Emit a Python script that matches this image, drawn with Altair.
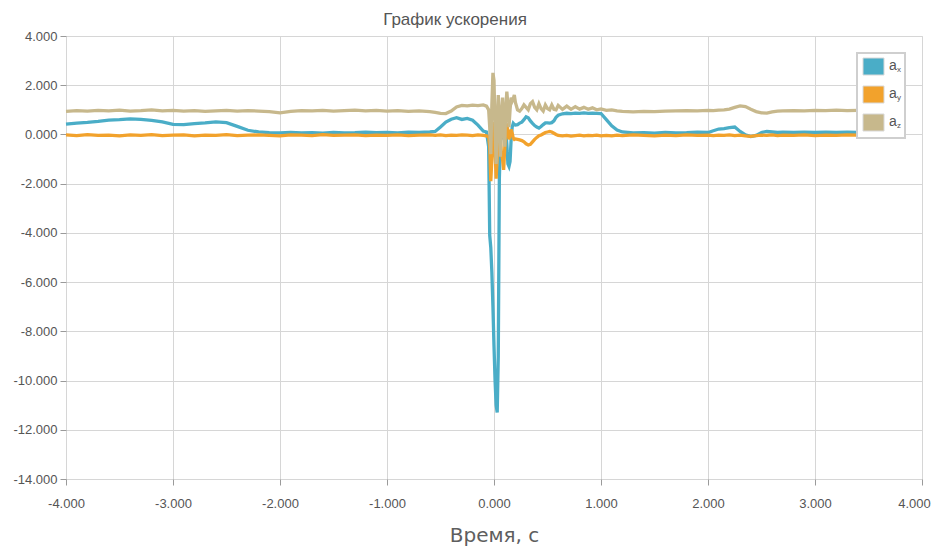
import altair as alt
import pandas as pd

TITLE = "График ускорения"
X_TITLE = "Время, с"
SERIES = ["ax", "ay", "az"]
SUBS = ["x", "y", "z"]
COLORS = ["#4aadc7", "#f2a22c", "#c7b88c"]

T = [-4.0, -3.9, -3.8, -3.7, -3.6, -3.5, -3.4, -3.3, -3.2, -3.1,
     -3.0, -2.9, -2.8, -2.7, -2.6, -2.5, -2.4, -2.3, -2.2, -2.1,
     -2.0, -1.9, -1.8, -1.7, -1.6, -1.5, -1.4, -1.3, -1.2, -1.1,
     -1.0, -0.9, -0.8, -0.7, -0.6,
     -0.55, -0.5, -0.45, -0.4, -0.35, -0.3, -0.25, -0.2, -0.15, -0.1, -0.07,
     -0.05, -0.04, -0.03, -0.02, -0.01, 0.0, 0.01, 0.02, 0.03, 0.04,
     0.05, 0.06, 0.07, 0.08, 0.09, 0.10, 0.11, 0.12, 0.13, 0.14,
     0.15, 0.16, 0.17, 0.18, 0.19, 0.20,
     0.22, 0.24, 0.26, 0.28, 0.30, 0.32, 0.34, 0.36, 0.38, 0.40,
     0.42, 0.44, 0.46, 0.48, 0.50, 0.52, 0.54, 0.56, 0.58, 0.60,
     0.64, 0.68, 0.72, 0.76, 0.80, 0.84, 0.88, 0.92, 0.96, 1.00,
     1.05, 1.10, 1.15, 1.20, 1.30, 1.40, 1.50, 1.60, 1.70, 1.80, 1.90, 2.00,
     2.05, 2.10, 2.15, 2.20, 2.25, 2.30, 2.35, 2.40, 2.45, 2.50, 2.55, 2.60, 2.65, 2.70,
     2.80, 2.90, 3.00, 3.10, 3.20, 3.30, 3.40]

AX = [0.42, 0.46, 0.49, 0.53, 0.58, 0.60, 0.63, 0.61, 0.57, 0.51,
      0.41, 0.40, 0.44, 0.47, 0.51, 0.48, 0.33, 0.17, 0.10, 0.07,
      0.06, 0.08, 0.06, 0.07, 0.05, 0.08, 0.06, 0.07, 0.09, 0.07,
      0.08, 0.06, 0.09, 0.08, 0.10,
      0.12, 0.30, 0.50, 0.62, 0.68, 0.61, 0.65, 0.58, 0.38, 0.14, 0.10,
      -0.5, -4.1, -4.6, -5.6, -7.0, -8.6, -10.0, -11.0, -11.3, -9.0,
      -1.8, -0.3, 0.35, -0.2, 0.1, 0.4, 0.2, -0.4, -1.2, -1.3,
      -1.1, -0.2, 0.3, 0.45, 0.4, 0.38,
      0.40, 0.46, 0.50, 0.60, 0.72, 0.68, 0.55, 0.45, 0.36, 0.30,
      0.26, 0.32, 0.40, 0.47, 0.47, 0.46, 0.48, 0.55, 0.70, 0.78,
      0.84, 0.86, 0.85, 0.87, 0.86, 0.88, 0.86, 0.87, 0.86, 0.85,
      0.60, 0.35, 0.18, 0.10, 0.06, 0.07, 0.05, 0.08, 0.06, 0.07, 0.09, 0.08,
      0.15, 0.22, 0.24, 0.28, 0.30, 0.12, -0.02, -0.09, -0.04, 0.08, 0.12, 0.10, 0.08, 0.09,
      0.08, 0.09, 0.08, 0.09, 0.08, 0.09, 0.08]

AY = [-0.02, -0.05, -0.01, -0.04, -0.03, -0.06, -0.02, -0.04, -0.01, -0.05,
      -0.03, -0.02, -0.06, -0.03, -0.04, -0.01, -0.05, -0.03, -0.02, -0.04,
      -0.06, -0.02, -0.03, -0.05, -0.01, -0.04, -0.03, -0.02, -0.05, -0.03,
      -0.04, -0.02, -0.05, -0.03, -0.02,
      -0.04, -0.02, -0.05, -0.03, -0.04, -0.02, -0.03, -0.05, -0.02, -0.04, -0.06,
      -0.1, -0.5, -1.9, -1.0, -0.2, 0.5, -0.6, -1.8, -0.9, 0.2,
      0.5, -0.2, -0.8, -1.0, -1.44, -0.6, 0.3, 0.45, 0.1, -0.2,
      0.0, 0.2, 0.05, -0.15, -0.2, -0.18,
      -0.2, -0.22, -0.25, -0.3, -0.38, -0.43, -0.4, -0.3, -0.2, -0.12,
      -0.05, -0.02, 0.03, 0.08, 0.1, 0.12, 0.1, 0.05, 0.0, -0.04,
      -0.06, -0.04, -0.07, -0.05, -0.03, -0.06, -0.04, -0.05, -0.03, -0.06,
      -0.04, -0.06, -0.03, -0.05, -0.02, -0.04, -0.06, -0.03, -0.05, -0.02, -0.04, -0.03,
      -0.05, -0.03, -0.04, -0.02, -0.05, -0.03, -0.06, -0.08, -0.05, -0.03, -0.04, -0.02, -0.05, -0.03,
      -0.04, -0.02, -0.05, -0.03, -0.04, -0.02, -0.03]

AZ = [0.94, 0.97, 0.95, 0.98, 0.96, 0.99, 0.95, 0.97, 1.00, 0.96,
      0.98, 0.95, 0.97, 0.94, 0.96, 0.98, 0.95, 0.97, 0.95, 0.93,
      0.88, 0.94, 0.97, 0.96, 0.98, 0.95, 0.97, 0.99, 0.96, 0.98,
      0.95, 0.97, 0.94, 0.96, 0.93,
      0.90, 0.86, 0.85, 0.95, 1.12, 1.18, 1.16, 1.19, 1.17, 1.20, 1.15,
      1.0, 0.3, -0.8, 1.2, 2.5, 2.2, 0.2, -1.2, 0.5, 1.6,
      0.6, -0.9, 0.8, 1.5, 0.3, -0.5, 1.1, 1.74, 1.2, 0.3,
      1.0, 1.5, 1.35, 1.45, 1.6, 1.3,
      1.0, 0.95, 1.05, 1.2, 1.1, 1.0, 1.25, 1.33, 1.1, 1.0,
      1.25, 1.05, 0.95, 1.2, 1.05, 1.0, 1.2, 1.02, 1.0, 1.18,
      1.02, 1.15, 1.02, 1.13, 1.03, 1.10, 1.02, 1.08, 1.00, 1.04,
      0.98, 1.00, 0.96, 0.94, 0.92, 0.94, 0.93, 0.95, 0.96, 0.97, 0.96, 0.98,
      0.97, 0.99, 1.00, 1.03, 1.10, 1.16, 1.13, 1.02, 0.93, 0.88, 0.87, 0.92, 0.95, 0.96,
      0.97, 0.96, 0.98, 0.97, 0.99, 0.97, 0.98]

X_TICKS = [-4, -3, -2, -1, 0, 1, 2, 3, 4]
Y_TICKS = [4, 2, 0, -2, -4, -6, -8, -10, -12, -14]

df = pd.DataFrame({"t": T, "ax": AX, "ay": AY, "az": AZ})

W, H = 856, 443
FONT = "Liberation Sans"
LABEL_EXPR = "(datum.value < 0 ? '-' : '') + format(abs(datum.value), '.3f')"

x_enc = alt.X("t:Q",
              scale=alt.Scale(domain=[-4, 4], nice=False),
              axis=alt.Axis(values=X_TICKS, labelExpr=LABEL_EXPR, title=X_TITLE,
                            grid=True, gridColor="#d6d6d6", gridWidth=1,
                            domain=False, tickColor="#9a9a9a", tickSize=6,
                            labelFlush=False,
                            labelOffset={"condition": {"test": "datum.value == 4", "value": -8},
                                         "value": 0},
                            labelPadding=12, labelFontSize=13, labelColor="#555555",
                            labelFont=FONT, titleFont="DejaVu Sans", titleFontSize=20,
                            titleFontWeight="normal", titleColor="#5e5e5e",
                            titleY=62, titleBaseline="alphabetic"))

layers = []
for name, col in zip(SERIES, COLORS):
    y_enc = alt.Y(f"{name}:Q",
                  scale=alt.Scale(domain=[-14, 4], nice=False),
                  axis=alt.Axis(values=Y_TICKS, labelExpr=LABEL_EXPR, title=None,
                                grid=True, gridColor="#d6d6d6", gridWidth=1,
                                domain=False, tickColor="#9a9a9a", tickSize=6,
                                labelFlush=False,
                                labelPadding=3, labelFontSize=13, labelColor="#555555",
                                labelFont=FONT))
    layers.append(
        alt.Chart(df).mark_line(color=col, strokeWidth=3.3, interpolate="linear")
        .encode(x=x_enc, y=y_enc)
    )

# legend box
leg_df = pd.DataFrame({"k": [0]})
legend_layers = [
    alt.Chart(leg_df).mark_rect(fill="#ffffff", stroke="#cfcfcf", strokeWidth=2)
    .encode(x=alt.value(791), x2=alt.value(839), y=alt.value(17), y2=alt.value(102))
]
for i, (sub, col) in enumerate(zip(SUBS, COLORS)):
    top = 22 + i * 28
    legend_layers.append(
        alt.Chart(leg_df).mark_rect(fill=col, stroke="#d8d8d8", strokeWidth=1)
        .encode(x=alt.value(797), x2=alt.value(818), y=alt.value(top), y2=alt.value(top + 17))
    )
    legend_layers.append(
        alt.Chart(leg_df).mark_text(text="a", font=FONT, fontSize=14, color="#555555",
                                    align="left", baseline="middle")
        .encode(x=alt.value(823), y=alt.value(top + 8))
    )
    legend_layers.append(
        alt.Chart(leg_df).mark_text(text=sub, font=FONT, fontSize=8, color="#555555",
                                    align="left", baseline="middle")
        .encode(x=alt.value(831), y=alt.value(top + 12))
    )

chart = alt.layer(*layers, *legend_layers).properties(
    width=W, height=H,
    title=alt.TitleParams(TITLE, font=FONT, fontSize=17, fontWeight="normal",
                          color="#555555", anchor="middle", dx=-39, offset=1),
    autosize=alt.AutoSizeParams(type="none"),
    padding={"left": 58, "top": 28, "right": 10, "bottom": 68},
).configure_view(
    fill="#fffdf6", stroke="#9a9a9a", strokeWidth=3
).configure(background="#ffffff")

chart.save("out.html", embed_options={"renderer": "svg", "actions": False})
